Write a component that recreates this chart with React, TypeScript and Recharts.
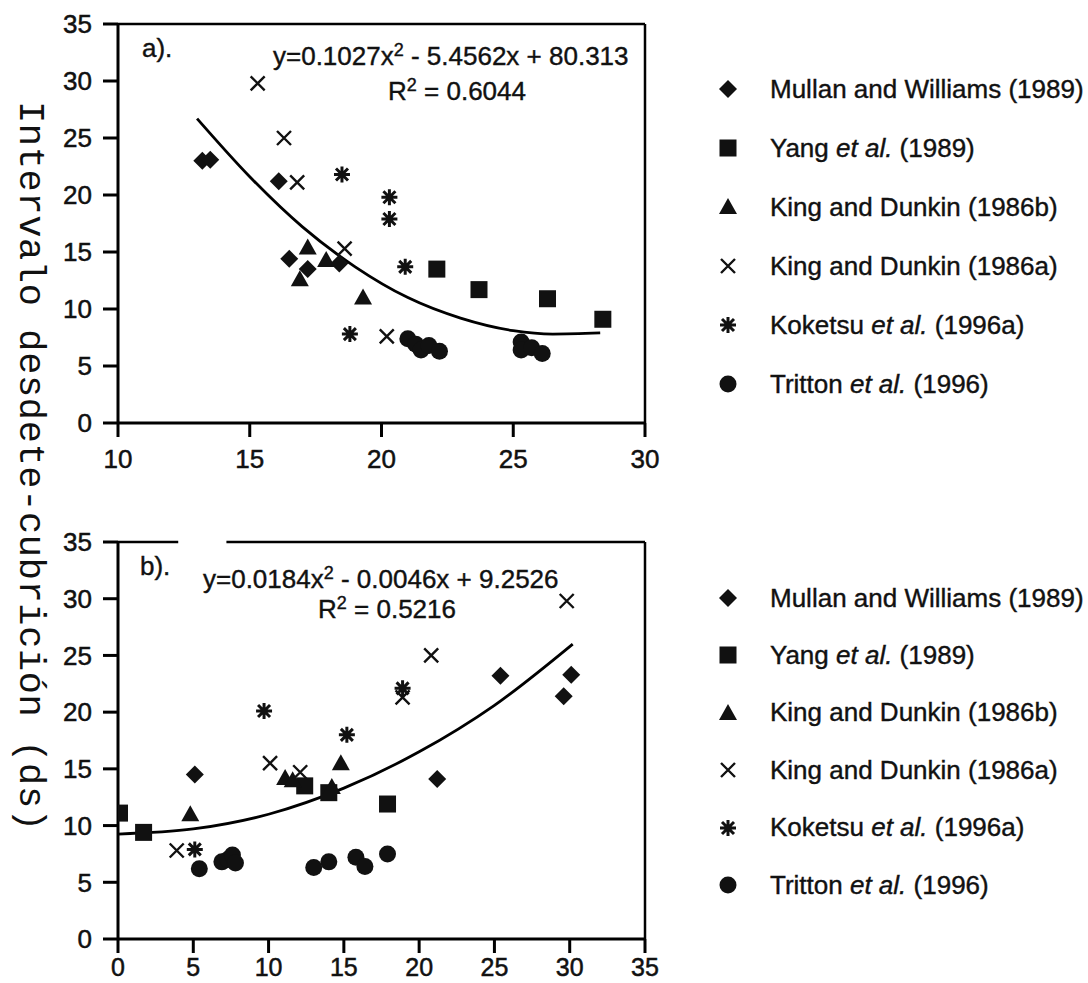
import { ReferenceLine, Scatter, ScatterChart, XAxis, YAxis } from "recharts";

type Pt = { x: number; y: number };

// ---- panel a) : x 10..30
const mullanA: Pt[] = [
  { x: 13.2, y: 23.0 }, { x: 13.5, y: 23.1 }, { x: 16.1, y: 21.2 },
  { x: 16.5, y: 14.4 }, { x: 17.2, y: 13.5 }, { x: 18.4, y: 14.0 },
];
const yangA: Pt[] = [
  { x: 22.1, y: 13.5 }, { x: 23.7, y: 11.7 }, { x: 26.3, y: 10.9 }, { x: 28.4, y: 9.1 },
];
const kingBA: Pt[] = [
  { x: 17.2, y: 15.4 }, { x: 16.9, y: 12.6 }, { x: 17.9, y: 14.3 }, { x: 19.3, y: 11.0 },
];
const kingAA: Pt[] = [
  { x: 15.3, y: 29.8 }, { x: 16.3, y: 25.0 }, { x: 16.8, y: 21.1 }, { x: 18.6, y: 15.3 }, { x: 20.2, y: 7.6 },
];
const koketsuA: Pt[] = [
  { x: 18.5, y: 21.8 }, { x: 20.3, y: 19.8 }, { x: 20.3, y: 17.9 }, { x: 20.9, y: 13.7 }, { x: 18.8, y: 7.8 },
];
const trittonA: Pt[] = [
  { x: 21.0, y: 7.4 }, { x: 21.3, y: 6.9 }, { x: 21.5, y: 6.4 }, { x: 21.8, y: 6.8 }, { x: 22.2, y: 6.3 },
  { x: 25.3, y: 7.1 }, { x: 25.3, y: 6.4 }, { x: 25.7, y: 6.6 }, { x: 26.1, y: 6.1 },
];
// fitted curve
const curveA: Pt[] = [
  { x: 13, y: 26.7 }, { x: 15, y: 21.6 }, { x: 17, y: 17.2 }, { x: 19, y: 13.7 }, { x: 21, y: 11.0 },
  { x: 23, y: 9.2 }, { x: 25, y: 8.1 }, { x: 26.5, y: 7.8 }, { x: 28.3, y: 7.9 },
];

// ---- panel b) : x 0..35
const mullanB: Pt[] = [
  { x: 5.1, y: 14.5 }, { x: 21.2, y: 14.1 }, { x: 25.4, y: 23.2 }, { x: 29.6, y: 21.4 }, { x: 30.1, y: 23.3 },
];
const yangB: Pt[] = [
  { x: 0.1, y: 11.1 }, { x: 1.7, y: 9.4 }, { x: 12.4, y: 13.5 }, { x: 14.0, y: 12.9 }, { x: 17.9, y: 11.9 },
];
const kingBB: Pt[] = [
  { x: 4.8, y: 11.0 }, { x: 11.1, y: 14.2 }, { x: 11.6, y: 14.0 }, { x: 14.2, y: 13.4 }, { x: 14.8, y: 15.5 },
];
const kingAB: Pt[] = [
  { x: 3.9, y: 7.8 }, { x: 10.1, y: 15.5 }, { x: 12.1, y: 14.7 }, { x: 18.9, y: 21.3 }, { x: 20.8, y: 25.0 }, { x: 29.8, y: 29.8 },
];
const koketsuB: Pt[] = [
  { x: 5.1, y: 7.9 }, { x: 9.7, y: 20.1 }, { x: 15.2, y: 18.0 }, { x: 18.9, y: 22.1 },
];
const trittonB: Pt[] = [
  { x: 5.4, y: 6.2 }, { x: 6.9, y: 6.8 }, { x: 7.3, y: 7.0 }, { x: 7.6, y: 7.4 }, { x: 7.8, y: 6.7 },
  { x: 13.0, y: 6.3 }, { x: 14.0, y: 6.8 }, { x: 15.8, y: 7.2 }, { x: 16.4, y: 6.4 }, { x: 17.9, y: 7.5 },
];
const curveB: Pt[] = [
  { x: 0, y: 9.25 }, { x: 5, y: 9.7 }, { x: 10, y: 11.0 }, { x: 15, y: 13.3 },
  { x: 20, y: 16.5 }, { x: 25, y: 20.6 }, { x: 30.2, y: 26.0 },
];

const yTicks = [0, 5, 10, 15, 20, 25, 30, 35];
const xTicksA = [10, 15, 20, 25, 30];
const xTicksB = [0, 5, 10, 15, 20, 25, 30, 35];

const legendItems = [
  { kind: "diamond", lead: "Mullan and Williams (1989)", it: "", tail: "" },
  { kind: "square", lead: "Yang ", it: "et al.", tail: " (1989)" },
  { kind: "triangle", lead: "King and Dunkin (1986b)", it: "", tail: "" },
  { kind: "cross", lead: "King and Dunkin (1986a)", it: "", tail: "" },
  { kind: "star", lead: "Koketsu ", it: "et al.", tail: " (1996a)" },
  { kind: "circle", lead: "Tritton ", it: "et al.", tail: " (1996)" },
];

const FONT = "'Liberation Sans', Arial, Helvetica, sans-serif";
const INK = "#111";

function Marker({ kind, cx, cy }: { kind: string; cx: number; cy: number }) {
  switch (kind) {
    case "diamond":
      return <path d={`M${cx},${cy - 9}L${cx + 9},${cy}L${cx},${cy + 9}L${cx - 9},${cy}Z`} fill={INK} />;
    case "square":
      return <rect x={cx - 8.5} y={cy - 8.5} width={17} height={17} fill={INK} />;
    case "triangle":
      return <path d={`M${cx},${cy - 9}L${cx + 9},${cy + 7}L${cx - 9},${cy + 7}Z`} fill={INK} />;
    case "cross":
      return (
        <path d={`M${cx - 7},${cy - 7}L${cx + 7},${cy + 7}M${cx - 7},${cy + 7}L${cx + 7},${cy - 7}`} stroke={INK} strokeWidth={2.4} />
      );
    case "star":
      return (
        <path
          d={`M${cx - 8},${cy}L${cx + 8},${cy}M${cx},${cy - 8}L${cx},${cy + 8}M${cx - 6},${cy - 6}L${cx + 6},${cy + 6}M${cx - 6},${cy + 6}L${cx + 6},${cy - 6}`}
          stroke={INK}
          strokeWidth={3}
        />
      );
    default:
      return <circle cx={cx} cy={cy} r={8.5} fill={INK} />;
  }
}

const shape = (kind: string) => (p: any) =>
  p.cx == null ? <g /> : <Marker kind={kind} cx={p.cx} cy={p.cy} />;

const axisLine = { stroke: "#000", strokeWidth: 3 };
const tickLine = { stroke: "#000", strokeWidth: 3 };
const tickStyle = { fill: INK, fontSize: 26, fontFamily: FONT, stroke: INK, strokeWidth: 0.5 };

function Legend({ top, step }: { top: number; step: number }) {
  return (
    <>
      {legendItems.map((it, i) => (
        <div
          key={it.lead}
          style={{
            position: "absolute",
            left: 714,
            top: top + i * step - 16,
            height: 32,
            display: "flex",
            alignItems: "center",
            whiteSpace: "nowrap",
            fontFamily: FONT,
            fontSize: 26,
            color: INK,
            WebkitTextStroke: "0.4px #111",
          }}
        >
          <svg width={28} height={28} style={{ marginRight: 28 }}>
            <Marker kind={it.kind} cx={14} cy={14} />
          </svg>
          <span>
            {it.lead}
            {it.it && <i>{it.it}</i>}
            {it.tail}
          </span>
        </div>
      ))}
    </>
  );
}

function Panel({
  sets,
  curve,
  xTicks,
  domain,
  height,
  margin,
  xHeight,
  tickMarginX,
  xFont,
  borders,
}: {
  sets: Pt[][];
  curve: Pt[];
  xTicks: number[];
  domain: [number, number];
  height: number;
  margin: { top: number; right: number; bottom: number; left: number };
  xHeight: number;
  tickMarginX: number;
  xFont: number;
  borders: React.ReactNode;
}) {
  const kinds = ["diamond", "square", "triangle", "cross", "star", "circle"];
  return (
    <ScatterChart width={660} height={height} margin={margin} style={{ overflow: "visible" }}>
      <XAxis
        type="number"
        dataKey="x"
        domain={domain}
        ticks={xTicks}
        interval={0}
        axisLine={axisLine}
        tickLine={tickLine}
        tickSize={14}
        tickMargin={tickMarginX}
        tick={{ ...tickStyle, fontSize: xFont }}
        height={xHeight}
        allowDataOverflow
      />
      <YAxis
        type="number"
        dataKey="y"
        domain={[0, 35]}
        ticks={yTicks}
        interval={0}
        axisLine={axisLine}
        tickLine={tickLine}
        tickSize={15}
        tickMargin={11}
        tick={tickStyle}
        width={60}
        allowDataOverflow
      />
      {borders}
      <Scatter
        data={curve}
        line={{ stroke: "#000", strokeWidth: 2.8 }}
        lineJointType="monotoneX"
        shape={() => <g />}
        isAnimationActive={false}
      />
      {sets.map((d, i) => (
        <Scatter key={kinds[i]} data={d} shape={shape(kinds[i])} isAnimationActive={false} />
      ))}
    </ScatterChart>
  );
}

export default function App() {
  const txt = { fontFamily: FONT, fontSize: 26, fill: INK, stroke: INK, strokeWidth: 0.4 };
  return (
    <div style={{ position: "absolute", left: 0, top: 0, width: 1088, height: 983, background: "#fff", overflow: "hidden" }}>
      <div style={{ position: "absolute", left: 0, top: 0 }}>
        <Panel
          sets={[mullanA, yangA, kingBA, kingAA, koketsuA, trittonA]}
          curve={curveA}
          xTicks={xTicksA}
          domain={[10, 30]}
          height={500}
          margin={{ top: 24, right: 15, bottom: 27, left: 58 }}
          xHeight={50}
          tickMarginX={13}
          xFont={26}
          borders={
            <>
              <ReferenceLine y={35} stroke="#000" strokeWidth={2.5} />
              <ReferenceLine x={30} stroke="#000" strokeWidth={2.5} />
            </>
          }
        />
      </div>
      <div style={{ position: "absolute", left: 0, top: 500 }}>
        <Panel
          sets={[mullanB, yangB, kingBB, kingAB, koketsuB, trittonB]}
          curve={curveB}
          xTicks={xTicksB}
          domain={[0, 35]}
          height={483}
          margin={{ top: 42, right: 15, bottom: 4, left: 58 }}
          xHeight={40}
          tickMarginX={5}
          xFont={25}
          borders={
            <>
              <ReferenceLine segment={[{ x: 0, y: 35 }, { x: 4.0, y: 35 }]} stroke="#000" strokeWidth={2.5} />
              <ReferenceLine segment={[{ x: 7.2, y: 35 }, { x: 35, y: 35 }]} stroke="#000" strokeWidth={2.5} />
              <ReferenceLine x={35} stroke="#000" strokeWidth={2.5} />
            </>
          }
        />
      </div>

      <svg width={1088} height={983} style={{ position: "absolute", left: 0, top: 0, pointerEvents: "none" }}>
        <text x={142} y={57} {...txt}>a).</text>
        <text x={273} y={65} {...txt}>
          y=0.1027x<tspan dy={-9} fontSize={18}>2</tspan>
          <tspan dy={9}> - 5.4562x + 80.313</tspan>
        </text>
        <text x={457} y={100} textAnchor="middle" {...txt}>
          R<tspan dy={-9} fontSize={18}>2</tspan>
          <tspan dy={9}> = 0.6044</tspan>
        </text>

        <text x={140} y={575} {...txt}>b).</text>
        <text x={203} y={588} {...txt}>
          y=0.0184x<tspan dy={-9} fontSize={18}>2</tspan>
          <tspan dy={9}> - 0.0046x + 9.2526</tspan>
        </text>
        <text x={387} y={618} textAnchor="middle" {...txt}>
          R<tspan dy={-9} fontSize={18}>2</tspan>
          <tspan dy={9}> = 0.5216</tspan>
        </text>

        <text
          x={30}
          y={466}
          transform="rotate(90 30 466)"
          textAnchor="middle"
          dominantBaseline="central"
          fontFamily="'Liberation Mono', 'Courier New', monospace"
          fontSize={37}
          fill={INK}
          textLength={730}
          lengthAdjust="spacing"
        >
          Intervalo desdete-cubrición (ds)
        </text>
      </svg>

      <Legend top={89} step={59} />
      <Legend top={598} step={57.4} />
    </div>
  );
}
